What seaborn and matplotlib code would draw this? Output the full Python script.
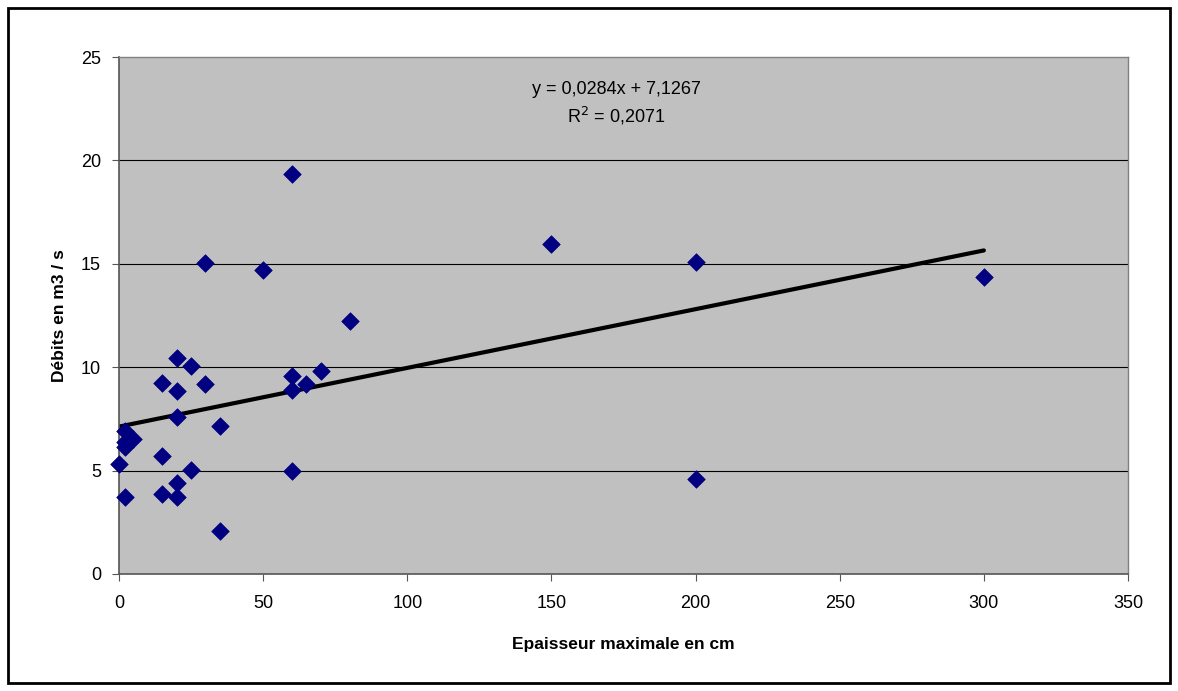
import numpy as np
import pandas as pd
import seaborn as sns
import matplotlib.pyplot as plt
from matplotlib.patches import Rectangle

# values
epaisseur = [0, 2, 2, 2, 2, 5, 15, 15, 15, 20, 20, 20, 20, 20, 25, 25, 30, 30,
             35, 35, 50, 60, 60, 60, 60, 65, 70, 80, 150, 200, 200, 300]
debits = [5.32, 6.9, 6.4, 6.15, 3.74, 6.51, 9.22, 5.71, 3.87, 10.43, 8.86, 7.61,
          4.42, 3.74, 10.07, 5.03, 9.17, 15.02, 7.17, 2.08, 14.70, 19.34, 9.57,
          8.9, 4.98, 9.17, 9.82, 12.25, 15.96, 15.09, 4.59, 14.36]
slope, intercept, r2 = 0.0284, 7.1267, 0.2071

df = pd.DataFrame({"x": epaisseur, "y": debits})

sns.set_style("white")
plt.rcParams["font.family"] = ["Liberation Sans", "DejaVu Sans"]
plt.rcParams["text.color"] = "black"
plt.rcParams["xtick.color"] = "black"
plt.rcParams["ytick.color"] = "black"
plt.rcParams["axes.labelcolor"] = "black"

fig = plt.figure(figsize=(11.78, 6.91), dpi=100)
ax = fig.add_axes([119 / 1178, 1 - 574 / 691, (1128 - 119) / 1178, (574 - 57) / 691])
ax.set_facecolor("#C0C0C0")

fig.patches.append(Rectangle((8 / 1178, 8 / 691), 1162 / 1178, 675 / 691,
                             transform=fig.transFigure, fill=False,
                             edgecolor="black", linewidth=2))

for yv in [5, 10, 15, 20]:
    ax.axhline(yv, color="black", linewidth=0.8, zorder=1)

line_x = np.array([min(epaisseur), max(epaisseur)])
sns.lineplot(x=line_x, y=slope * line_x + intercept, ax=ax, color="black",
             linewidth=3, zorder=2)
sns.scatterplot(data=df, x="x", y="y", ax=ax, marker="D", s=80, color="#000080",
                edgecolor="#000080", linewidth=0.5, zorder=3, clip_on=False)

ax.set_xlim(0, 350)
ax.set_ylim(0, 25)
ax.set_xticks(range(0, 351, 50))
ax.set_yticks(range(0, 26, 5))
ax.tick_params(axis="both", labelsize=13, length=5, direction="out",
               color="#555555", left=True, bottom=True)
ax.tick_params(axis="x", pad=10)
ax.tick_params(axis="y", pad=8)
for side in ["left", "bottom"]:
    ax.spines[side].set_color("#555555")
    ax.spines[side].set_linewidth(1.2)
for side in ["top", "right"]:
    ax.spines[side].set_color("#808080")
    ax.spines[side].set_linewidth(1)

ax.set_xlabel("Epaisseur maximale en cm", fontsize=12.5, fontweight="bold", labelpad=18)
ax.set_ylabel("Débits en m3 / s", fontsize=12.5, fontweight="bold", labelpad=10)

ax.text(172.5, 23.45, "y = 0,0284x + 7,1267", ha="center", va="center", fontsize=13)
ax.text(172.5, 22.15, "R$^2$ = 0,2071", ha="center", va="center", fontsize=13)

fig.savefig("out.png", dpi=100)
